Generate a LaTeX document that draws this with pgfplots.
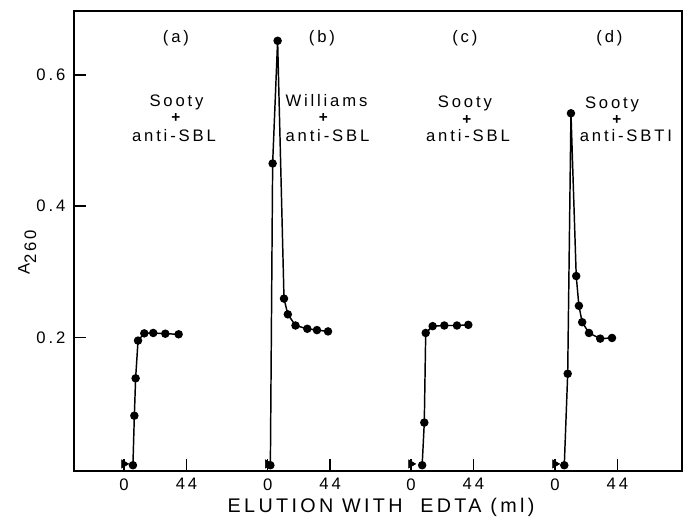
\documentclass[border=0pt]{standalone}
\usepackage{fontspec}
\setmainfont[LetterSpace=17]{Liberation Sans}
\usepackage{pgfplots}
\pgfplotsset{compat=1.18}

\begin{document}
\begin{tikzpicture}[font=\fontsize{12.5}{15}\selectfont,
    ser/.style={line width=1.1pt, black, mark=*, mark size=2.6pt, mark options={solid, fill=black}},
    plus/.style={font=\fontsize{11.5}{12}\selectfont\bfseries}]
    \begin{axis}[
        name=ax,
        scale only axis,
        width=456pt, height=345pt,
        xmin=-35.2, xmax=393,
        ymin=-0.0038, ymax=0.6974,
        axis line style={line width=1.5pt},
        tick style={line width=1.2pt, black},
        tick align=inside,
        major tick length=9pt,
        xtick pos=bottom, ytick pos=left,
        xtick={0,44,101.2,145.2,202.1,246.1,303.5,347.5},
        xticklabels={0,44,0,44,0,44,0,44},
        ytick={0.2,0.4,0.6},
        yticklabels={0.2,0.4,0.6},
        /pgf/number format/assume math mode=true,
        yticklabel style={xshift=-3pt},
        xticklabel style={yshift=-2pt},
        xlabel={\fontsize{14.8}{16}\selectfont ELUTION WITH\ \ EDTA (ml)},
        xlabel style={at={(axis description cs:0.505,-0.0783)}, anchor=center},
        ylabel={A\raisebox{-0.4em}{260}},
        ylabel style={at={(axis description cs:-0.077,0.475)}, anchor=center},
        clip=false,
    ]

    % (a) Sooty + anti-SBL
    \addplot[ser] coordinates {
        (6.3,0.005) (7.3,0.0805) (8.2,0.1375) (9.9,0.195) (14.3,0.206)
        (20.6,0.2066) (29.1,0.2055) (38.5,0.2046)
    };
    % (b) Williams + anti-SBL
    \addplot[ser] coordinates {
        (103.1,0.005) (104.7,0.465) (108.2,0.652) (112.7,0.259) (115.4,0.235)
        (120.8,0.218) (129.1,0.213) (135.9,0.211) (143.7,0.209)
    };
    % (c) Sooty + anti-SBL
    \addplot[ser] coordinates {
        (210.0,0.005) (211.5,0.070) (212.5,0.2066) (217.4,0.217)
        (225.6,0.218) (234.5,0.218) (242.5,0.219)
    };
    % (d) Sooty + anti-SBTI
    \addplot[ser] coordinates {
        (310.1,0.005) (312.5,0.1445) (314.8,0.5415) (318.5,0.2934) (320.4,0.248)
        (322.7,0.223) (327.5,0.2066) (335.4,0.198) (343.7,0.199)
    };
    % start of elution
    \addplot[only marks, black, mark=triangle*, mark size=3.6pt, mark options={rotate=-90, fill=black}]
        coordinates {(0,0.007) (101.2,0.007) (202.1,0.007) (303.5,0.007)};

    \node[anchor=base] at (axis cs:36.6,0.649) {(a)};
    \node[anchor=base] at (axis cs:139.4,0.649) {(b)};
    \node[anchor=base] at (axis cs:240.1,0.649) {(c)};
    \node[anchor=base] at (axis cs:341.9,0.649) {(d)};

    \node[anchor=base] at (axis cs:37.0,0.552) {Sooty};
    \node[plus] at (axis cs:36.6,0.535) {+};
    \node[anchor=base] at (axis cs:35.2,0.498) {anti-SBL};

    \node[anchor=base] at (axis cs:142.6,0.552) {Williams};
    \node[plus] at (axis cs:140.4,0.535) {+};
    \node[anchor=base] at (axis cs:143.3,0.498) {anti-SBL};

    \node[anchor=base] at (axis cs:240.1,0.550) {Sooty};
    \node[plus] at (axis cs:241.5,0.531) {+};
    \node[anchor=base] at (axis cs:242.3,0.498) {anti-SBL};

    \node[anchor=base] at (axis cs:343.7,0.549) {Sooty};
    \node[plus] at (axis cs:347.2,0.531) {+};
    \node[anchor=base] at (axis cs:353.5,0.498) {anti-SBTI};

    \end{axis}
    \pgfresetboundingbox
    \path[use as bounding box] ([xshift=-55.5pt,yshift=-39.75pt]ax.south west)
        rectangle ([xshift=3pt,yshift=8.25pt]ax.north east);
\end{tikzpicture}
\end{document}
